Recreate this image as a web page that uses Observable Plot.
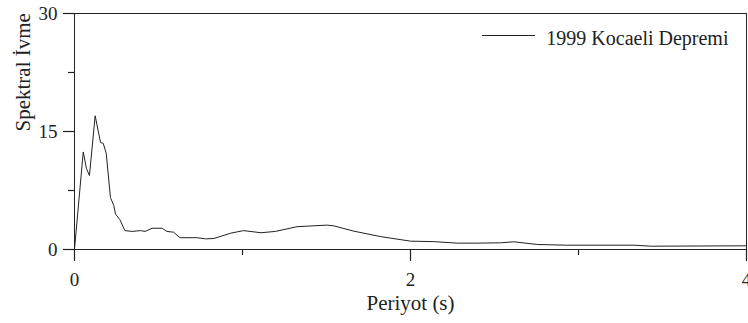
<!DOCTYPE html>
<html>
<head>
<meta charset="utf-8">
<script src="https://cdn.jsdelivr.net/npm/d3@7"></script>
<script src="https://cdn.jsdelivr.net/npm/@observablehq/plot@0.6"></script>
<style>
  html, body { margin: 0; padding: 0; background: #fff; }
  #chart { position: relative; width: 748px; height: 323px; font-family: "Liberation Serif", serif; }
  svg text, svg g, svg { font-family: "Liberation Serif", serif !important; font-stretch: normal !important; }
</style>
</head>
<body>
<div id="chart"></div>
<script>
// Period (s)
const period = [0, 0.052, 0.071, 0.089, 0.123, 0.155, 0.171, 0.189, 0.214, 0.234, 0.244, 0.27, 0.30,
  0.343, 0.393, 0.42, 0.462, 0.522, 0.55, 0.59, 0.627, 0.73, 0.78, 0.83, 0.929, 1.006, 1.11, 1.196,
  1.325, 1.504, 1.544, 1.663, 1.82, 2.0, 2.139, 2.278, 2.397, 2.536, 2.615, 2.754, 2.93, 3.33, 3.43, 4.0];
// Spectral acceleration
const accel = [0, 12.4, 10.3, 9.4, 17.0, 13.6, 13.5, 12.2, 6.6, 5.6, 4.5, 3.8, 2.4,
  2.3, 2.4, 2.3, 2.7, 2.7, 2.3, 2.2, 1.5, 1.5, 1.35, 1.4, 2.07, 2.4, 2.13, 2.3,
  2.9, 3.1, 3.0, 2.33, 1.65, 1.06, 1.0, 0.81, 0.81, 0.85, 0.98, 0.64, 0.55, 0.55, 0.42, 0.47];
const xMajorTicks = [0, 2, 4];
const xMinorTicks = [1, 3];
const yMajorTicks = [0, 15, 30];
const yMinorTicks = [7.5, 22.5];
const seriesName = "1999 Kocaeli Depremi";
const xTitle = "Periyot (s)";
const yTitle = "Spektral İvme";

const data = period.map((p, i) => ({period: p, accel: accel[i]}));
const ink = "#222";
const font = "Liberation Serif";

const plot = Plot.plot({
  width: 748,
  height: 323,
  marginLeft: 74,
  marginRight: 2,
  marginTop: 13,
  marginBottom: 74,
  x: {domain: [0, 4]},
  y: {domain: [0, 30]},
  style: {fontFamily: font, fontSize: "19px", color: ink, background: "#fff", overflow: "visible"},
  marks: [
    Plot.frame({stroke: ink, strokeWidth: 1}),
    Plot.axisX({ticks: xMajorTicks, tickFormat: d => String(d), tickSize: 12, tickPadding: 11, label: null, stroke: ink, strokeWidth: 1.2, fontFamily: font, fontSize: 19, fill: ink}),
    Plot.axisX({ticks: xMinorTicks, tickSize: 6, text: null, label: null, stroke: ink, strokeWidth: 1.2}),
    Plot.axisY({ticks: yMajorTicks, tickFormat: d => String(d), tickSize: 11, tickPadding: 6, label: null, stroke: ink, strokeWidth: 1.2, fontFamily: font, fontSize: 19, fill: ink}),
    Plot.axisY({ticks: yMinorTicks, tickSize: 6, text: null, label: null, stroke: ink, strokeWidth: 1.2}),
    Plot.line(data, {x: "period", y: "accel", stroke: ink, strokeWidth: 1}),
    Plot.text([xTitle], {frameAnchor: "bottom", text: d => d, lineAnchor: "bottom", dy: 60, fontSize: 21, fontFamily: font, fill: ink}),
    Plot.text([yTitle], {frameAnchor: "left", text: d => d, rotate: -90, lineAnchor: "bottom", dx: -45, fontSize: 21, fontFamily: font, fill: ink}),
    Plot.text([seriesName], {frameAnchor: "top-right", text: d => d, textAnchor: "end", lineAnchor: "bottom", dx: -18, dy: 31, fontSize: 20, fontFamily: font, fill: ink})
  ]
});

const svg = d3.select(plot);
svg.style("font-family", "'Liberation Serif', serif", "important");
svg.selectAll("g, text").attr("font-family", "Liberation Serif")
  .style("font-family", "'Liberation Serif', serif", "important");

// legend swatch line
svg.append("line")
  .attr("x1", 482).attr("x2", 535)
  .attr("y1", 35.5).attr("y2", 35.5)
  .attr("stroke", ink).attr("stroke-width", 1);

document.getElementById("chart").appendChild(plot);
</script>
</body>
</html>
